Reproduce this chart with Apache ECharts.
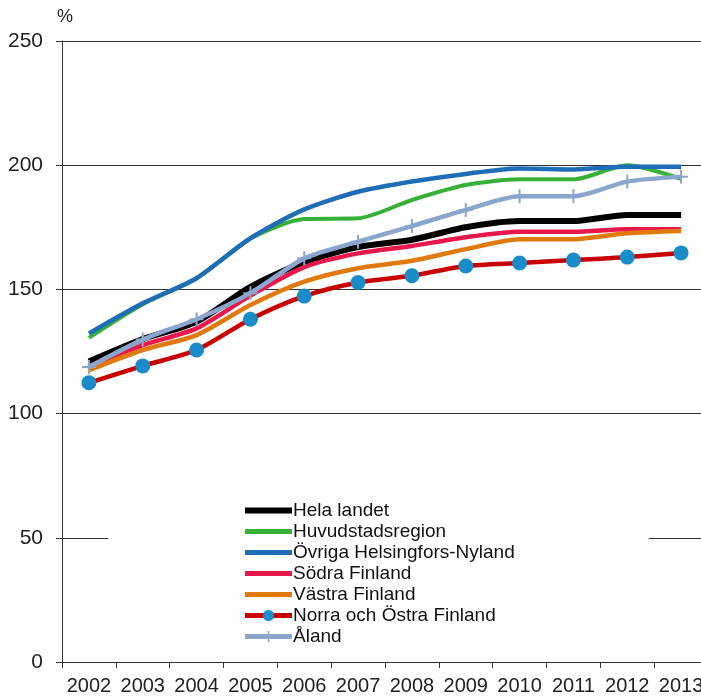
<!DOCTYPE html>
<html>
<head>
<meta charset="utf-8">
<script src="https://cdn.jsdelivr.net/npm/echarts@6/dist/echarts.min.js"></script>
<style>
  html, body { margin: 0; padding: 0; background: #fff; }
  #chart { width: 701px; height: 697px; }
</style>
</head>
<body>
<div id="chart"></div>
<script>
const years = ['2002', '2003', '2004', '2005', '2006', '2007', '2008', '2009', '2010', '2011', '2012', '2013']

const helaLandet = [121, 130, 137, 151, 161, 167, 170, 175, 177.5, 177.5, 180, 180]
const huvudstadsregion = [130.5, 144, 154.5, 170.5, 178.3, 178.6, 186, 192, 194.3, 194.3, 200, 194.5]
const ovrigaNyland = [132.3, 144.4, 154.5, 170.6, 182.2, 189.3, 193.4, 196.5, 198.7, 198.3, 199.4, 199.4]
const sodraFinland = [119, 127.6, 134.3, 147.5, 159, 164.5, 167.5, 171, 173.2, 173.2, 174.2, 174.2]
const vastraFinland = [117.5, 125.6, 131.6, 143.7, 153.1, 158.5, 161.5, 166.2, 170.2, 170.2, 172.6, 173.5]
const norraOstra = [112.4, 119.2, 125.6, 138, 147.3, 152.8, 155.5, 159.4, 160.6, 161.8, 163, 164.7]
const aland = [118.8, 129.8, 138, 148.5, 162.5, 169.2, 175.5, 182, 187.5, 187.5, 193.4, 195.4]

const plusPath = 'path://M6,0h2v14h-2z M0,6h14v2h-14z'

const chart = echarts.init(document.getElementById('chart'))

function lineSeries(name, data, color, width, extra) {
  return Object.assign({
    name,
    type: 'line',
    data,
    smooth: 0.25,
    symbol: 'none',
    lineStyle: { color, width },
    itemStyle: { color },
    emphasis: { disabled: true }
  }, extra || {})
}

// legend entries: thick line, and hide the default circle where the series has no marker
function legendItem(name, width, marker) {
  const item = { name, lineStyle: { width } }
  if (!marker) item.itemStyle = { opacity: 0 }
  return item
}

chart.setOption({
  animation: false,
  backgroundColor: '#fff',
  textStyle: { fontFamily: 'Liberation Sans, Arial, sans-serif' },
  grid: { left: 62, top: 41, width: 646, bottom: 35, containLabel: false, outerBoundsMode: 'none' },
  xAxis: {
    type: 'category',
    data: years,
    boundaryGap: true,
    axisLine: { lineStyle: { color: '#333', width: 1 } },
    axisTick: { show: true, length: 6, lineStyle: { color: '#333' } },
    axisLabel: {
      color: '#222',
      fontSize: 20,
      margin: 14,
      interval: 0,
      hideOverlap: false
    },
    splitLine: { show: false }
  },
  yAxis: {
    type: 'value',
    min: 0,
    max: 250,
    interval: 50,
    name: '%',
    nameLocation: 'end',
    nameGap: 15,
    nameTextStyle: { color: '#222', fontSize: 18, align: 'left', padding: [0, 0, 0, -5] },
    axisLine: { show: true, lineStyle: { color: '#333', width: 1 } },
    axisTick: { show: true, length: 6, lineStyle: { color: '#333' } },
    axisLabel: { color: '#222', fontSize: 21, margin: 19 },
    splitLine: { show: true, lineStyle: { color: '#333', width: 1 } }
  },
  legend: {
    orient: 'vertical',
    left: 108,
    top: 492,
    backgroundColor: '#fff',
    padding: [8, 134, 4, 134],
    itemWidth: 47,
    itemHeight: 14,
    itemGap: 0,
    textStyle: { color: '#111', fontSize: 19, lineHeight: 21, padding: [0, 0, 0, -4] },
    data: [
      legendItem('Hela landet', 6, false),
      legendItem('Huvudstadsregion', 5, false),
      legendItem('Övriga Helsingfors-Nyland', 5, false),
      legendItem('Södra Finland', 5, false),
      legendItem('Västra Finland', 5, false),
      legendItem('Norra och Östra Finland', 5, true),
      legendItem('Åland', 5, true)
    ]
  },
  series: [
    lineSeries('Hela landet', helaLandet, '#000000', 6),
    lineSeries('Huvudstadsregion', huvudstadsregion, '#36b036', 4),
    lineSeries('Övriga Helsingfors-Nyland', ovrigaNyland, '#1f6db6', 4.5),
    lineSeries('Södra Finland', sodraFinland, '#e8184c', 4.5),
    lineSeries('Västra Finland', vastraFinland, '#e07a0e', 4.5),
    lineSeries('Norra och Östra Finland', norraOstra, '#c80000', 4.5, {
      symbol: 'circle',
      symbolSize: 15,
      showSymbol: true,
      itemStyle: { color: '#1a8cc8', borderWidth: 0 }
    }),
    lineSeries('Åland', aland, '#8aa6cc', 4.5, {
      symbol: plusPath,
      symbolSize: 14,
      showSymbol: true,
      itemStyle: { color: '#8aa6cc' }
    })
  ]
})
</script>
</body>
</html>
